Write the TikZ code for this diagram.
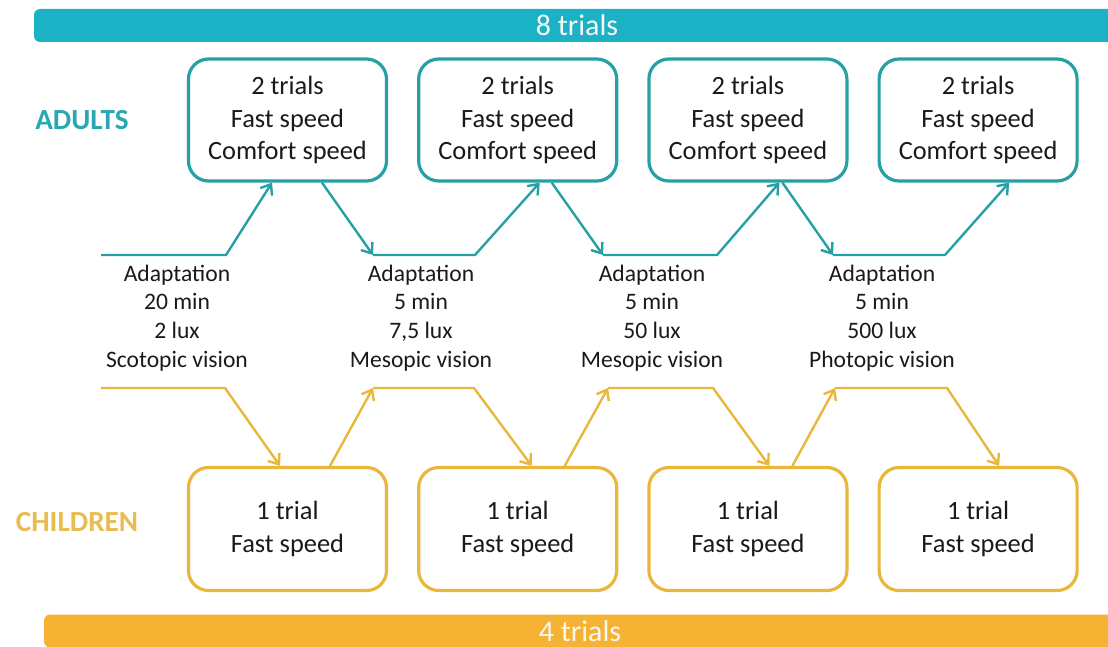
\documentclass[tikz,border=0pt]{standalone}
\usepackage{fontspec}
\setmainfont{Carlito}
\usepackage{tikz}
\usetikzlibrary{arrows.meta, positioning}
\definecolor{barteal}{HTML}{1AB2C4}
\definecolor{adultline}{HTML}{26A0A5}
\definecolor{adulttext}{HTML}{28A8B2}
\definecolor{baryellow}{HTML}{F6B232}
\definecolor{childline}{HTML}{E8B73C}
\definecolor{childtext}{HTML}{E8BC50}
\definecolor{textdark}{HTML}{1A1A1A}
\definecolor{bartext}{HTML}{F7F7F2}
\tikzstyle{adultbox} = [rectangle, rounded corners=10pt, minimum width=99pt, minimum height=61pt, align=center, draw=adultline, line width=1.6pt, fill=white, text=textdark, font={\fontsize{13.2}{16.25}\selectfont}]
\tikzstyle{childbox} = [rectangle, rounded corners=10pt, minimum width=99pt, minimum height=61.5pt, align=center, draw=childline, line width=1.6pt, fill=white, text=textdark, font={\fontsize{13.2}{16.25}\selectfont}]
\tikzstyle{adaptlabel} = [align=center, inner sep=0pt, text=textdark, font={\fontsize{11.8}{14.35}\selectfont}]
\tikzstyle{grouplabel} = [inner sep=0pt, font={\fontsize{14.6}{17}\selectfont\bfseries}]
\tikzstyle{trialbar} = [rectangle, rounded corners=3pt, minimum height=16.5pt, inner sep=0pt, text=bartext, font={\fontsize{15}{17}\selectfont}]
\tikzstyle{tealarrow} = [line width=1.2pt, ->, >={Straight Barb[length=4.5pt, width=7pt]}, color=adultline]
\tikzstyle{yellowarrow} = [line width=1.2pt, ->, >={Straight Barb[length=4.5pt, width=7pt]}, color=childline]

\begin{document}
\begin{tikzpicture}[x=0.5pt, y=-0.5pt, node distance=14.5pt]
    \useasboundingbox (0,0) rectangle (1108,647);
    \node[trialbar, fill=barteal, minimum width=543pt] (total8) at (577,25.5) {8 trials};

    \node[grouplabel, text=adulttext] (adults) at (82,120) {ADULTS};
    \node[adultbox] (adult1) at (287.5,120) {2 trials\\Fast speed\\Comfort speed};
    \node[adultbox, right=of adult1] (adult2) {2 trials\\Fast speed\\Comfort speed};
    \node[adultbox, right=of adult2] (adult3) {2 trials\\Fast speed\\Comfort speed};
    \node[adultbox, right=of adult3] (adult4) {2 trials\\Fast speed\\Comfort speed};

    \node[adaptlabel] (adapt1) at (177,318) {Adaptation\\20 min\\2 lux\\Scotopic vision};
    \node[adaptlabel] (adapt2) at (421,318) {Adaptation\\5 min\\7,5 lux\\Mesopic vision};
    \node[adaptlabel] (adapt3) at (652,318) {Adaptation\\5 min\\50 lux\\Mesopic vision};
    \node[adaptlabel] (adapt4) at (882,318) {Adaptation\\5 min\\500 lux\\Photopic vision};

    \node[grouplabel, text=childtext] (children) at (77,522) {CHILDREN};
    \node[childbox] (child1) at (287.5,529) {1 trial\\Fast speed};
    \node[childbox, right=of child1] (child2) {1 trial\\Fast speed};
    \node[childbox, right=of child2] (child3) {1 trial\\Fast speed};
    \node[childbox, right=of child3] (child4) {1 trial\\Fast speed};

    \node[trialbar, fill=baryellow, minimum width=536pt] (total4) at (580,631) {4 trials};

    % adults line
    \coordinate (ta0) at (101,255);
    \coordinate (ta1) at (226,255);
    \coordinate (ta2) at (373,255);
    \coordinate (ta3) at (475,255);
    \coordinate (ta4) at (603,255);
    \coordinate (ta5) at (717,255);
    \coordinate (ta6) at (833,255);
    \coordinate (ta7) at (945,255);
    \draw[tealarrow] (ta0) -- (ta1) -- ([xshift=-7.75pt]adult1.south);
    \draw[tealarrow] ([xshift=17.25pt]adult1.south) -- (ta2);
    \draw[tealarrow] (ta2) -- (ta3) -- ([xshift=11pt]adult2.south);
    \draw[tealarrow] ([xshift=17pt]adult2.south) -- (ta4);
    \draw[tealarrow] (ta4) -- (ta5) -- ([xshift=15.75pt]adult3.south);
    \draw[tealarrow] ([xshift=17.25pt]adult3.south) -- (ta6);
    \draw[tealarrow] (ta6) -- (ta7) -- ([xshift=15.5pt]adult4.south);

    % children line
    \coordinate (ya0) at (101,388);
    \coordinate (ya1) at (225,388);
    \coordinate (ya2) at (373,388);
    \coordinate (ya3) at (474,388);
    \coordinate (ya4) at (608,388);
    \coordinate (ya5) at (713,388);
    \coordinate (ya6) at (835,388);
    \coordinate (ya7) at (947,388);
    \draw[yellowarrow] (ya0) -- (ya1) -- ([xshift=-3.75pt]child1.north);
    \draw[yellowarrow] ([xshift=21.25pt]child1.north) -- (ya2);
    \draw[yellowarrow] (ya2) -- (ya3) -- ([xshift=7pt]child2.north);
    \draw[yellowarrow] ([xshift=23.5pt]child2.north) -- (ya4);
    \draw[yellowarrow] (ya4) -- (ya5) -- ([xshift=10.75pt]child3.north);
    \draw[yellowarrow] ([xshift=22.25pt]child3.north) -- (ya6);
    \draw[yellowarrow] (ya6) -- (ya7) -- ([xshift=10.5pt]child4.north);
\end{tikzpicture}
\end{document}
